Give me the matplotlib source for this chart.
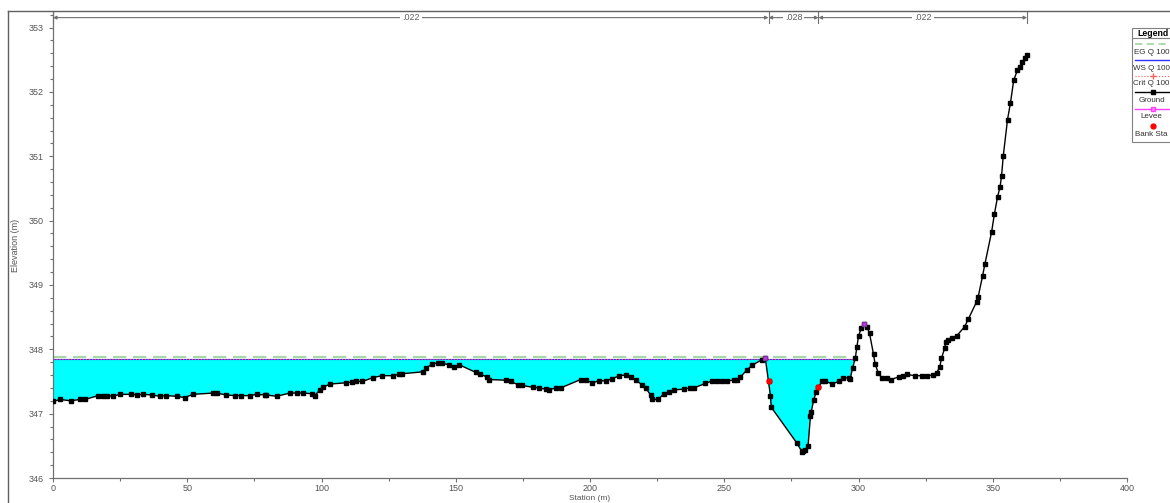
import numpy as np
import matplotlib
matplotlib.use("Agg")
import matplotlib.pyplot as plt
from matplotlib.lines import Line2D
from matplotlib.patches import Rectangle
from matplotlib.ticker import MultipleLocator

plt.rcParams['font.family'] = ['Liberation Sans', 'DejaVu Sans']

# ground survey points (station m, elevation m)
station = [0, 2.6, 6.6, 10.0, 11.9, 16.8, 18.7, 20.2, 22.4, 24.9, 29.0, 31.2, 33.7, 36.8,
           39.8, 41.9, 46.0, 49.0, 52.2, 59.6, 60.9, 64.6, 67.7, 70.2, 73.3, 75.8, 78.9,
           79.5, 83.3, 88.2, 90.7, 93.2, 96.3, 97.5, 99.4, 100.6, 103.1, 109.3, 111.5,
           113.0, 115.2, 119.2, 122.5, 126.5, 128.8, 130.0, 137.7, 139.0, 141.2, 143.5,
           144.8, 147.6, 149.4, 151.3, 157.5, 159.0, 161.5, 162.5, 168.6, 170.4, 173.2,
           174.5, 178.6, 181.0, 183.5, 184.8, 187.2, 189.1, 196.5, 198.4, 200.9, 203.3,
           205.8, 208.3, 210.8, 213.3, 215.1, 217.0, 219.4, 220.7, 222.6, 223.2, 225.4,
           227.5, 229.4, 231.2, 234.9, 237.4, 238.7, 243.0, 245.5, 247.3, 249.2, 251.0,
           253.5, 254.8, 256.0, 258.5, 260.3, 264.1, 265.3, 266.5, 267.2, 267.5, 277.1,
           278.9, 279.5, 280.2, 281.2, 282.1, 282.4, 283.3, 284.2, 285.1, 286.4, 287.6,
           290.1, 292.6, 294.4, 296.3, 296.9, 297.8, 298.8, 299.4, 300.0, 301.0, 302.2,
           303.1, 304.1, 305.6, 306.2, 307.4, 308.6, 310.5, 312.1, 314.9, 316.7, 317.9,
           321.0, 323.5, 325.4, 327.9, 329.1, 330.3, 330.9, 332.1, 332.5, 333.5, 334.7,
           336.6, 339.5, 340.9, 344.0, 344.6, 346.2, 347.1, 349.6, 350.6, 351.8, 352.7,
           353.3, 353.9, 355.5, 356.6, 357.8, 359.2, 360.1, 361.0, 362.0, 362.8]
elevation = [347.19, 347.22, 347.20, 347.22, 347.22, 347.28, 347.28, 347.28, 347.27, 347.30,
             347.30, 347.29, 347.30, 347.29, 347.27, 347.28, 347.27, 347.25, 347.30, 347.32,
             347.32, 347.29, 347.28, 347.28, 347.28, 347.30, 347.29, 347.29, 347.27, 347.32,
             347.32, 347.32, 347.31, 347.28, 347.37, 347.41, 347.46, 347.48, 347.49, 347.50,
             347.50, 347.56, 347.59, 347.59, 347.61, 347.62, 347.65, 347.71, 347.77, 347.79,
             347.78, 347.76, 347.73, 347.76, 347.64, 347.62, 347.57, 347.53, 347.52, 347.50,
             347.45, 347.44, 347.41, 347.40, 347.38, 347.37, 347.40, 347.40, 347.53, 347.52,
             347.48, 347.51, 347.51, 347.54, 347.59, 347.60, 347.57, 347.52, 347.45, 347.40,
             347.29, 347.22, 347.22, 347.31, 347.34, 347.37, 347.38, 347.40, 347.40, 347.47,
             347.51, 347.51, 347.51, 347.51, 347.52, 347.53, 347.57, 347.68, 347.75, 347.84,
             347.86, 347.50, 347.28, 347.10, 346.54, 346.41, 346.42, 346.44, 346.49, 346.96,
             347.03, 347.21, 347.33, 347.42, 347.50, 347.51, 347.46, 347.50, 347.55, 347.56,
             347.54, 347.71, 347.86, 348.04, 348.20, 348.33, 348.39, 348.35, 348.25, 347.92,
             347.77, 347.63, 347.56, 347.56, 347.53, 347.57, 347.59, 347.61, 347.59, 347.59,
             347.59, 347.60, 347.63, 347.73, 347.86, 348.02, 348.12, 348.15, 348.17, 348.21,
             348.35, 348.47, 348.74, 348.82, 349.14, 349.33, 349.83, 350.10, 350.37, 350.52,
             350.70, 351.00, 351.57, 351.83, 352.18, 352.34, 352.38, 352.46, 352.53, 352.57]

ws_elev = 347.85     # WS Q 100
crit_elev = 347.85   # Crit Q 100
eg_elev = 347.88     # EG Q 100

levee_sta = [265.3, 302.2]
levee_elev = [347.86, 348.39]
bank_sta = [266.5, 285.1]
bank_elev = [347.50, 347.42]

n_bounds = [0, 266.5, 285.1, 362.8]
n_values = [".022", ".028", ".022"]

legend_labels = ["EG Q 100", "WS Q 100", "Crit Q 100", "Ground", "Levee", "Bank Sta"]

W, H = 1170, 503
fig = plt.figure(figsize=(W / 100, H / 100), dpi=100)
ax = fig.add_axes([53 / W, 25 / H, (1127 - 53) / W, (478 - 11.5) / H])

x = np.array(station)
z = np.array(elevation)

# right edge of the water surface where the bank rises through it
seg = (x >= 296.9) & (x <= 300.0)
ws_right = np.interp(ws_elev, z[seg], x[seg])
ws_x = [0, ws_right]

xf = np.linspace(0, ws_right, 3000)
zf = np.interp(xf, x, z)
ax.fill_between(xf, zf, ws_elev, where=zf < ws_elev, color='#00ffff', lw=0, zorder=1)

ax.plot(ws_x, [eg_elev, eg_elev], color='#a9d7a9', lw=1.6, dashes=(6, 3), zorder=2)
ax.plot(ws_x, [ws_elev, ws_elev], color='#3030ff', lw=0.8, zorder=3)
ax.plot(ws_x, [crit_elev, crit_elev], color='#ff5050', lw=0.8, ls=':', zorder=4)

ax.plot(x, z, color='black', lw=1.0, marker='s', ms=2.8, zorder=5)
ax.plot(levee_sta, levee_elev, ls='none', marker='s', ms=3.5, color='#c040e0',
        markeredgecolor='#8030a0', zorder=6)
ax.plot(bank_sta, bank_elev, ls='none', marker='o', ms=3.5, color='red', zorder=7)

# Manning's n bands across the top
ny = 353.155
for b in n_bounds:
    ax.plot([b, b], [353.07, 353.255], color='#707070', lw=0.8, clip_on=False, zorder=8)
for (a, b), n in zip(zip(n_bounds[:-1], n_bounds[1:]), n_values):
    ax.annotate('', xy=(a, ny), xytext=(b, ny),
                arrowprops=dict(arrowstyle='<|-|>', color='#707070', lw=0.8,
                                mutation_scale=5, shrinkA=0, shrinkB=0), zorder=8)
    ax.text((a + b) / 2, ny, n, ha='center', va='center', fontsize=6.5, color='#606060',
            bbox=dict(facecolor='white', edgecolor='none', pad=1.5), zorder=9)

ax.set_xlim(0, 400)
ax.set_ylim(346, 353.25)
ax.xaxis.set_major_locator(MultipleLocator(50))
ax.xaxis.set_minor_locator(MultipleLocator(25))
ax.yaxis.set_major_locator(MultipleLocator(1))
ax.yaxis.set_minor_locator(MultipleLocator(0.2))
ax.tick_params(which='both', colors='#707070', labelcolor='#555555', labelsize=6.5,
               width=0.8, direction='out')
ax.tick_params(which='major', length=3)
ax.tick_params(which='minor', length=2.5)
ax.tick_params(axis='x', which='major', pad=1.5)
ax.spines['top'].set_visible(False)
ax.spines['right'].set_visible(False)
for s in ('left', 'bottom'):
    ax.spines[s].set_color('#707070')
    ax.spines[s].set_linewidth(0.9)

fig.text(15 / W, 1 - 245 / H, 'Elevation (m)', rotation=90, ha='center', va='center',
         fontsize=6.5, color='#555555')
fig.text(590 / W, 0.5 / H, 'Station (m)', ha='center', va='bottom',
         fontsize=6, color='#555555')

# outer frame
fig.add_artist(Line2D([8 / W, 8 / W], [0, 1 - 11 / H], color='#606060', lw=1,
                      transform=fig.transFigure))
fig.add_artist(Line2D([8 / W, 1], [1 - 11 / H, 1 - 11 / H], color='#606060', lw=1,
                      transform=fig.transFigure))

# legend panel, drawn in pixel positions on the figure
def fx(px):
    return px / W

def fy(py):
    return 1 - py / H

fig.add_artist(Rectangle((fx(1132), fy(142)), fx(60), 114 / H, transform=fig.transFigure,
                         facecolor='white', edgecolor='#808080', lw=0.8))
fig.text(fx(1153), fy(33), 'Legend', ha='center', va='center', fontsize=6.3,
         fontweight='bold', color='black')
fig.add_artist(Line2D([fx(1132), 1], [fy(38), fy(38)], color='#808080', lw=0.8,
                      transform=fig.transFigure))

sym_y = [43.5, 59.5, 75.5, 92, 108.5, 126]
txt_y = [52, 68, 83.5, 100.5, 117, 134]
styles = [
    dict(color='#a9d7a9', lw=1.3, dashes=(4, 2.5)),
    dict(color='#3030ff', lw=1),
    dict(color='#ff6060', lw=0.8, ls=':', marker='+', ms=4),
    dict(color='black', lw=1, marker='s', ms=3),
    dict(color='#ff40ff', lw=1, marker='s', ms=3, markerfacecolor='#ff80ff'),
    dict(color='red', lw=0, marker='o', ms=3.5),
]
for yy, ty, lab, st in zip(sym_y, txt_y, legend_labels, styles):
    sx = [fx(1135), fx(1153), 1.02]
    line = Line2D(sx, [fy(yy)] * 3, transform=fig.transFigure, markevery=[1], **st)
    fig.add_artist(line)
    fig.text(fx(1151.5), fy(ty), lab, ha='center', va='center', fontsize=5.8, color='#303030')

fig.savefig("out.png", dpi=100)
